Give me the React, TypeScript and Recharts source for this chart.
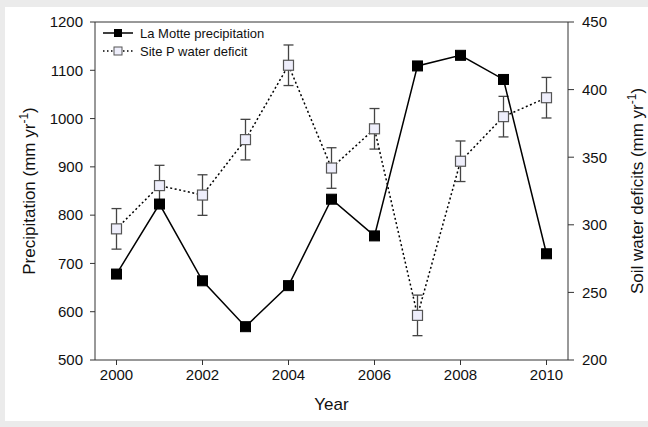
import React from 'react';
import { LineChart, Line, XAxis, YAxis, ErrorBar, Legend, ReferenceLine } from 'recharts';

const years = [2000, 2001, 2002, 2003, 2004, 2005, 2006, 2007, 2008, 2009, 2010];
const precipitation = [678, 823, 664, 569, 654, 833, 757, 1109, 1131, 1081, 720];
const waterDeficit = [297, 329, 322, 363, 418, 342, 371, 233, 347, 380, 394];
const waterDeficitSE = [15, 15, 15, 15, 15, 15, 15, 15, 15, 15, 15];
const yearTicks = [2000, 2002, 2004, 2006, 2008, 2010];
const precipTicks = [500, 600, 700, 800, 900, 1000, 1100, 1200];
const deficitTicks = [200, 250, 300, 350, 400, 450];
const seriesNames = ['La Motte precipitation', 'Site P water deficit'];
const axisTitles = ['Year', 'Precipitation (mm yr', 'Soil water deficits (mm yr'];

const data = years.map((year, i) => ({
  year,
  precip: precipitation[i],
  deficit: waterDeficit[i],
  se: waterDeficitSE[i],
}));

const FONT = '"Liberation Sans", Arial, sans-serif';
const AXIS = '#333';
const OPEN_FILL = '#eeeefb';

function FilledSquare(props: any) {
  const { cx, cy, index } = props;
  if (cx == null || cy == null) return <g key={`f${index}`} />;
  return <rect key={`f${index}`} x={cx - 5} y={cy - 5} width={10} height={10} fill="#000" stroke="#000" strokeWidth={1} />;
}

function OpenSquare(props: any) {
  const { cx, cy, index } = props;
  if (cx == null || cy == null) return <g key={`o${index}`} />;
  return <rect key={`o${index}`} x={cx - 5} y={cy - 5} width={10} height={10} fill={OPEN_FILL} stroke="#555" strokeWidth={1.2} />;
}

function LegendContent() {
  return (
    <svg width={220} height={42} style={{ display: 'block', overflow: 'visible' }}>
      <line x1={8} x2={38} y1={11} y2={11} stroke="#000" strokeWidth={1.5} />
      <rect x={19} y={7} width={8} height={8} fill="#000" />
      <text x={45} y={15.5} fontSize={13} fontFamily={FONT} fill="#111">{seriesNames[0]}</text>
      <line x1={8} x2={38} y1={29} y2={29} stroke="#000" strokeWidth={1.5} strokeDasharray="1.5 2.5" />
      <rect x={19} y={25} width={8} height={8} fill={OPEN_FILL} stroke="#555" />
      <text x={45} y={33.5} fontSize={13} fontFamily={FONT} fill="#111">{seriesNames[1]}</text>
    </svg>
  );
}

function XTitle(props: any) {
  const { viewBox } = props;
  const cx = viewBox.x + viewBox.width / 2;
  return (
    <text x={cx} y={410} textAnchor="middle" fontSize={17} fontFamily={FONT} fill="#111">{axisTitles[0]}</text>
  );
}

function VTitle(props: any) {
  const { viewBox, bx, text } = props;
  const cy = viewBox.y + viewBox.height / 2;
  return (
    <text x={bx} y={cy} transform={`rotate(-90 ${bx} ${cy})`} textAnchor="middle" fontSize={17} fontFamily={FONT} fill="#111">
      {text}
      <tspan dy={-7} fontSize={12}>-1</tspan>
      <tspan dy={7}>)</tspan>
    </text>
  );
}

export default function App() {
  const tickStyle = { fill: '#111', fontSize: 15, fontFamily: FONT };
  return (
    <div style={{ position: 'absolute', left: 0, top: 0, width: 648, height: 427, background: '#ebebeb' }}>
      <div style={{ position: 'absolute', left: 5, top: 7, width: 643, height: 414, background: '#fff' }} />
      <LineChart
        width={648}
        height={427}
        data={data}
        margin={{ top: 22, right: 0, bottom: 0, left: 0 }}
        style={{ position: 'absolute', left: 0, top: 0 }}
      >
        <XAxis
          dataKey="year"
          type="number"
          domain={[1999.5, 2010.5]}
          ticks={yearTicks}
          height={67}
          tickSize={5}
          tickMargin={4}
          stroke={AXIS}
          tick={tickStyle}
          label={<XTitle />}
        />
        <YAxis
          yAxisId="left"
          domain={[500, 1200]}
          ticks={precipTicks}
          width={95}
          tickSize={5}
          tickMargin={7}
          stroke={AXIS}
          tick={tickStyle}
          label={<VTitle bx={35} text={axisTitles[1]} />}
        />
        <YAxis
          yAxisId="right"
          orientation="right"
          domain={[200, 450]}
          ticks={deficitTicks}
          width={80}
          tickSize={6}
          tickMargin={8}
          stroke={AXIS}
          tick={tickStyle}
          label={<VTitle bx={643} text={axisTitles[2]} />}
        />
        <ReferenceLine yAxisId="left" y={1200} stroke={AXIS} />
        <Legend
          layout="vertical"
          align="center"
          verticalAlign="middle"
          content={<LegendContent />}
          wrapperStyle={{ position: 'absolute', left: 95, top: 22, width: 220, height: 42 }}
        />
        <Line
          yAxisId="right"
          dataKey="deficit"
          stroke="#000"
          strokeWidth={1.5}
          strokeDasharray="2 2.5"
          dot={OpenSquare}
          activeDot={false}
          isAnimationActive={false}
        >
          <ErrorBar dataKey="se" width={5} stroke="#444" strokeWidth={1.3} direction="y" isAnimationActive={false} />
        </Line>
        <Line
          yAxisId="left"
          dataKey="precip"
          stroke="#000"
          strokeWidth={1.5}
          dot={FilledSquare}
          activeDot={false}
          isAnimationActive={false}
        />
      </LineChart>
    </div>
  );
}
